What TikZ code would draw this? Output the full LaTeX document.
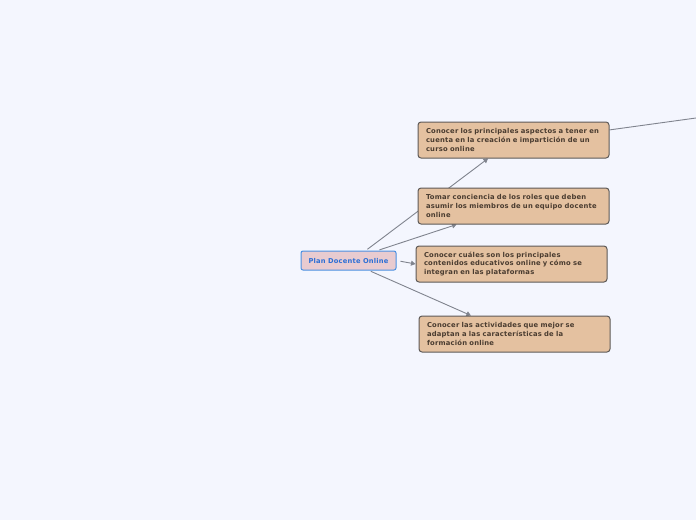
\documentclass[tikz,border=0pt]{standalone}
\usepackage{fontspec}
\setmainfont{DejaVu Sans}
\newfontfamily\mapfont{DejaVu Sans}[LetterSpace=3]
\usetikzlibrary{backgrounds, arrows.meta}
\definecolor{bgcol}{HTML}{F4F6FE}
\definecolor{topicfill}{HTML}{E4C1A0}
\definecolor{topicline}{HTML}{5E5A58}
\definecolor{topictext}{HTML}{4A3C30}
\definecolor{rootfill}{HTML}{E8CBD0}
\definecolor{rootline}{HTML}{4A90E2}
\definecolor{roottext}{HTML}{2C6FD6}
\definecolor{linkcol}{HTML}{80848E}
\begin{document}
\begin{tikzpicture}[x=1pt, y=-1pt, line width=1pt,
        root/.style = {draw=rootline, fill=rootfill, rounded corners=2pt, minimum width=95pt, minimum height=19pt,
            inner sep=0pt, font=\mapfont\fontsize{6.7}{7.5}\selectfont\bfseries, text=roottext},
        topic/.style = {draw=topicline, fill=topicfill, rounded corners=3pt, minimum width=191pt, minimum height=36pt,
            text width=175pt, align=left, inner sep=0pt, font=\mapfont\fontsize{6.8}{8.7}\selectfont\bfseries, text=topictext},
        link/.style = {draw=linkcol, line width=0.9pt, shorten <=2pt, -{Triangle[length=4.5pt,width=5pt]}}]
    \useasboundingbox (0,0) rectangle (696,520);
    \node[root] (root) at (348.5,260.5) {Plan Docente Online};
    \node[topic] (b1) at (513.5,140) {Conocer los principales aspectos a tener en\\cuenta en la creación e impartición de un\\curso online};
    \node[topic] (b2) at (513.5,206) {Tomar conciencia de los roles que deben\\asumir los miembros de un equipo docente\\online};
    \node[topic] (b3) at (511.5,264) {Conocer cuáles son los principales\\contenidos educativos online y cómo se\\integran en las plataformas};
    \node[topic] (b4) at (514.5,334) {Conocer las actividades que mejor se\\adaptan a las características de la\\formación online};
    \coordinate (out) at (696,118);
    % links go behind the boxes
    \begin{scope}[on background layer]
        \fill[bgcol] (0,0) rectangle (696,520);
        \draw[link] (root.30) -- (b1.216);
        \draw[link] (root.19) -- (b2.198);
        \draw[link, shorten <=4pt] (root.east) -- (b3.west);
        \draw[link] (root.-26) -- (b4.157);
        \draw[draw=linkcol, line width=0.9pt] (b1.6) -- (out);
    \end{scope}
\end{tikzpicture}
\end{document}
